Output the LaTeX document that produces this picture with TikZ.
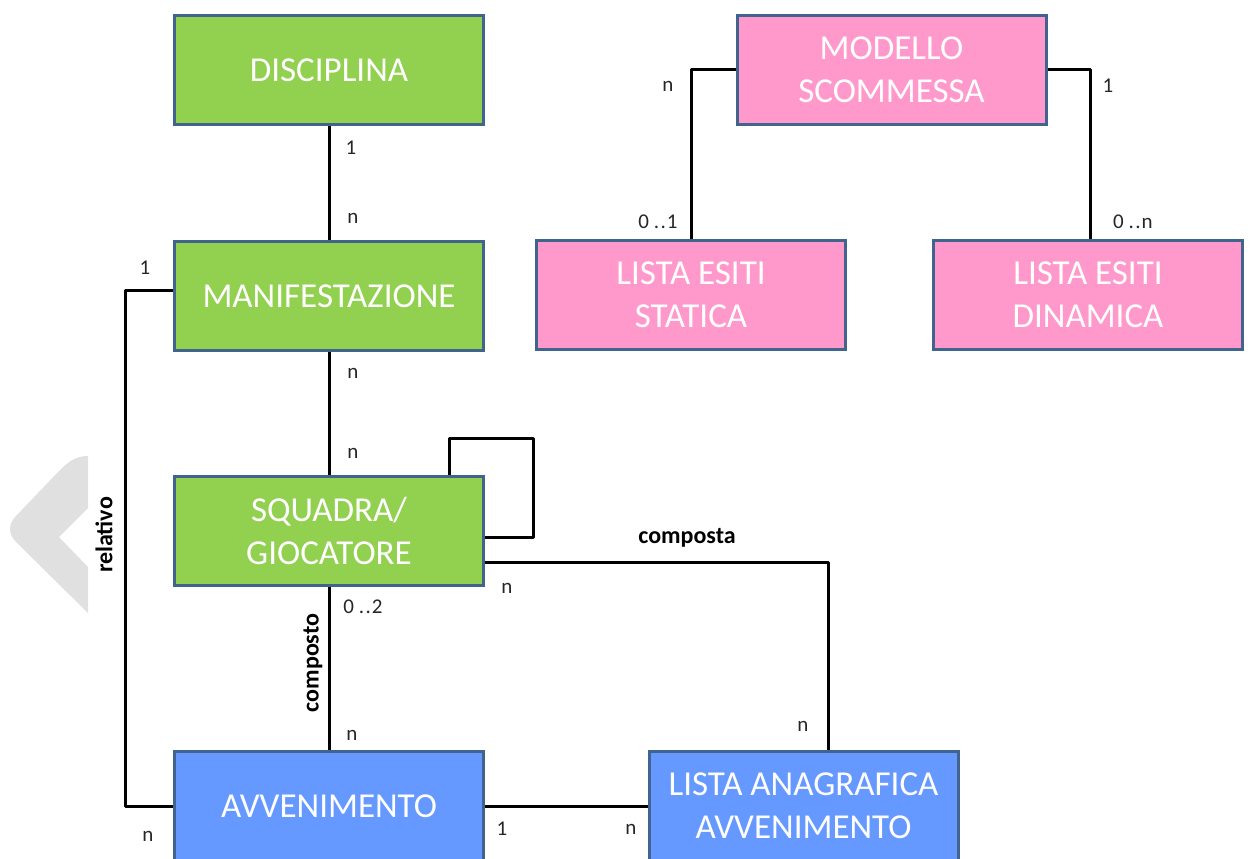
\documentclass[tikz,border=0pt]{standalone}
\usepackage{fontspec}
\setmainfont{Carlito}
\usetikzlibrary{calc}
\definecolor{bord}{HTML}{41648E}
\definecolor{gfill}{HTML}{92D050}
\definecolor{pfill}{HTML}{FF99CC}
\definecolor{bfill}{HTML}{6699FF}
\definecolor{wm}{HTML}{E0E0E0}
\tikzset{
  ent/.style={draw=bord, line width=3pt, minimum width=309pt, minimum height=109pt, inner sep=0pt,
    text=white, align=center, font=\fontsize{35}{43}\selectfont},
  green/.style={ent, fill=gfill},
  pink/.style={ent, fill=pfill},
  blue/.style={ent, fill=bfill},
  conn/.style={line width=3pt, line join=round, black},
  card/.style={font=\fontsize{21}{23}\selectfont, inner sep=0pt, text=black!85},
  role/.style={font=\fontsize{24}{26}\selectfont\bfseries, inner sep=0pt, text=black}
}
\newcommand{\dd}{\ .\kern1.5pt.\kern1pt}
\begin{document}
\begin{tikzpicture}[x=1pt,y=-1pt]
\useasboundingbox (0,0) rectangle (1254,859);
\clip (0,0) rectangle (1254,859);
% watermark chevron
\fill[wm] (88,456) .. controls (76,456) and (68,462) .. (60,470) -- (16,516) .. controls (8,524) and (8,534) .. (16,542) -- (88,613) -- (88,567) -- (59,537) -- (88,508) -- cycle;
% entities
\node[green] (disc) at (329,70) {DISCIPLINA};
\node[green] (man) at (329,296) {MANIFESTAZIONE};
\node[green] (sq) at (329,531) {SQUADRA/\\GIOCATORE};
\node[blue] (avv) at (329,806) {AVVENIMENTO};
\node[blue] (lista) at (803.5,806) {LISTA ANAGRAFICA\\AVVENIMENTO};
\node[pink] (mod) at (891.5,70) {MODELLO\\SCOMMESSA};
\node[pink] (stat) at (691,294.5) {LISTA ESITI\\STATICA};
\node[pink] (din) at (1088,294.5) {LISTA ESITI\\DINAMICA};
% connectors
\draw[conn] (disc.south) -- (man.north);
\draw[conn] (man.south) -- (sq.north);
\draw[conn] ([xshift=120pt]sq.north) -- ++(0,-37) -- ++(84,0) |- ([yshift=-6pt]sq.east);
\draw[conn] ([yshift=-31pt]sq.east) -| ([xshift=24.5pt]lista.north);
\draw[conn] (sq.south) -- (avv.north);
\coordinate (rl) at (125,0);
\draw[conn] ([yshift=6pt]man.west) -| (rl |- avv.west) -- (avv.west);
\draw[conn] (avv.east) -- (lista.west);
\draw[conn] (mod.west) -| (stat.north);
\draw[conn] (mod.east) -| ([xshift=2pt]din.north);
% cardinalities
\node[card] at (351,148) {1};
\node[card] at (353,218) {n};
\node[card] at (353,373) {n};
\node[card] at (353,453) {n};
\node[card] at (507,588) {n};
\node[card] at (803,726) {n};
\node[card] at (363,607) {0\dd2};
\node[card] at (352,735) {n};
\node[card] at (145,268) {1};
\node[card] at (148,836) {n};
\node[card] at (502,829) {1};
\node[card] at (631,829) {n};
\node[card] at (668,86) {n};
\node[card] at (658,222) {0\dd1};
\node[card] at (1133,222) {0\dd n};
\node[card] at (1108,86) {1};
% roles
\node[role] at (687,538) {composta};
\node[role, rotate=90] at (313,663) {composto};
\node[role, rotate=90] at (104,535) {relativo};
\end{tikzpicture}
\end{document}
